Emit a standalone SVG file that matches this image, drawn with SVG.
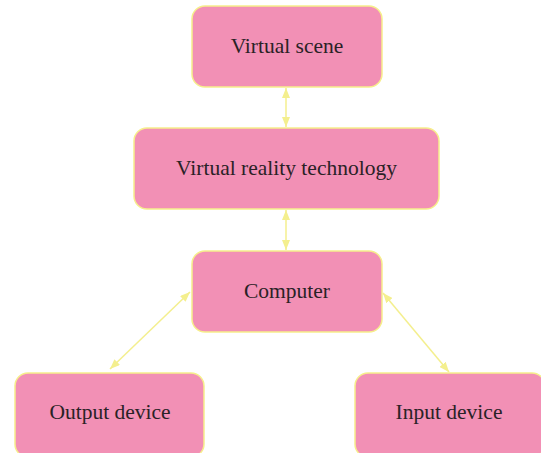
<svg xmlns="http://www.w3.org/2000/svg" width="541" height="453" viewBox="0 0 541 453">
<defs>
<style>
.box{fill:#f290b5;stroke:#f6ee8c;stroke-width:1.5}
.lbl{font-family:"Liberation Serif",serif;font-size:21.5px;fill:#2a2226;text-anchor:middle}
.conn{stroke:#f4ef8e;stroke-width:1.5;fill:none;marker-start:url(#ah);marker-end:url(#ah)}
</style>
<marker id="ah" viewBox="0 0 10 10" refX="10" refY="5" markerWidth="10" markerHeight="8" markerUnits="userSpaceOnUse" orient="auto-start-reverse" preserveAspectRatio="none">
<path d="M0,0 L10,5 L0,10 Z" fill="#f4ef8e"/>
</marker>
</defs>
<rect width="541" height="453" fill="#ffffff"/>
<g id="connectors">
<line class="conn" x1="286" y1="88" x2="286" y2="127"/>
<line class="conn" x1="286" y1="210" x2="286" y2="250"/>
<line class="conn" x1="190" y1="292" x2="110" y2="369"/>
<line class="conn" x1="383" y1="293" x2="449" y2="372"/>
</g>
<g id="virtual-scene">
<rect class="box" x="192" y="6" width="190" height="81" rx="13"/>
<text class="lbl" x="287" y="53">Virtual scene</text>
</g>
<g id="vr-technology">
<rect class="box" x="134" y="128" width="305" height="81" rx="13"/>
<text class="lbl" x="286.5" y="175">Virtual reality technology</text>
</g>
<g id="computer">
<rect class="box" x="192" y="251" width="190" height="81" rx="13"/>
<text class="lbl" x="287" y="298">Computer</text>
</g>
<g id="output-device">
<rect class="box" x="15" y="373" width="189" height="84" rx="13"/>
<text class="lbl" x="110" y="419">Output device</text>
</g>
<g id="input-device">
<rect class="box" x="355" y="373" width="190" height="84" rx="13"/>
<text class="lbl" x="449" y="419">Input device</text>
</g>
</svg>
